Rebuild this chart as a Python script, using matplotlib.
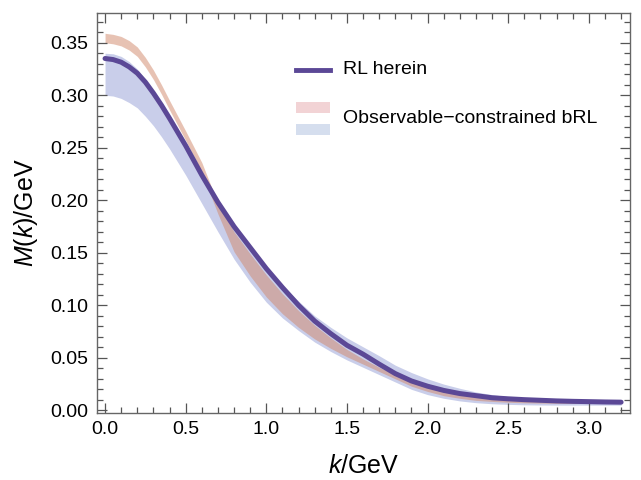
import matplotlib
matplotlib.use("Agg")
import matplotlib.pyplot as plt
from matplotlib.patches import Rectangle
from matplotlib.lines import Line2D
from matplotlib.ticker import MultipleLocator, FormatStrFormatter

plt.rcParams["font.family"] = ["Liberation Sans", "DejaVu Sans"]
plt.rcParams["mathtext.fontset"] = "custom"
plt.rcParams["mathtext.it"] = "Liberation Sans:italic"
plt.rcParams["mathtext.rm"] = "Liberation Sans"

# momentum grid (GeV), finer at low k where the curves bend
k = [0.0, 0.05, 0.1, 0.15, 0.2, 0.25, 0.3, 0.35, 0.4, 0.5, 0.6, 0.7, 0.8, 0.9, 1.0,
     1.1, 1.2, 1.3, 1.4, 1.5, 1.6, 1.7, 1.8, 1.9, 2.0,
     2.1, 2.2, 2.3, 2.4, 2.5, 2.6, 2.7, 2.8, 2.9, 3.0, 3.1, 3.2]

# RL herein mass function M(k)
rl_mass = [0.335, 0.334, 0.3315, 0.327, 0.321, 0.3125, 0.302, 0.2905, 0.278,
           0.252, 0.224, 0.198, 0.175, 0.155, 0.135,
           0.117, 0.100, 0.085, 0.073, 0.062, 0.0535, 0.044, 0.035, 0.028, 0.023,
           0.019, 0.016, 0.014, 0.012, 0.011, 0.0102, 0.0096, 0.009, 0.0086, 0.0083, 0.008, 0.0078]

# bRL band (blue)
blue_lo = [0.300, 0.2993, 0.297, 0.293, 0.288, 0.280, 0.271, 0.2605, 0.249,
           0.224, 0.197, 0.170, 0.144, 0.122, 0.103,
           0.088, 0.076, 0.065, 0.056, 0.048, 0.041, 0.034, 0.027, 0.020, 0.015,
           0.0115, 0.009, 0.0073, 0.0063, 0.0057, 0.0053, 0.0051, 0.005, 0.005, 0.005, 0.005, 0.005]
blue_hi = [0.340, 0.3395, 0.337, 0.332, 0.325, 0.315, 0.304, 0.2925, 0.280,
           0.254, 0.226, 0.200, 0.177, 0.157, 0.137,
           0.119, 0.104, 0.090, 0.079, 0.069, 0.0605, 0.052, 0.043, 0.036, 0.030,
           0.025, 0.021, 0.0175, 0.015, 0.013, 0.0118, 0.011, 0.0104, 0.0099, 0.0095, 0.0092, 0.009]

# observable-constrained band (pink)
pink_lo = [0.350, 0.349, 0.347, 0.343, 0.337, 0.327, 0.315, 0.301, 0.286,
           0.257, 0.227, 0.187, 0.151, 0.128, 0.108,
           0.092, 0.079, 0.068, 0.059, 0.051, 0.044, 0.037, 0.030, 0.023, 0.018,
           0.014, 0.0115, 0.0095, 0.0085, 0.0077, 0.0072, 0.0069, 0.0067, 0.0066, 0.0066, 0.0066, 0.0066]
pink_hi = [0.359, 0.358, 0.356, 0.352, 0.346, 0.336, 0.324, 0.310, 0.295,
           0.266, 0.236, 0.197, 0.170, 0.149, 0.129,
           0.111, 0.095, 0.081, 0.069, 0.058, 0.049, 0.041, 0.034, 0.027, 0.022,
           0.018, 0.015, 0.0128, 0.011, 0.0098, 0.009, 0.0085, 0.0081, 0.0078, 0.0076, 0.0074, 0.0072]

line_color = "#5B4896"
blue_color = "#C9CEEA"
pink_color = (209 / 255, 135 / 255, 105 / 255)

fig = plt.figure(figsize=(6.41, 4.8), dpi=100)
ax = fig.add_axes([0.1513, 0.1396, 0.8315, 0.8339])

ax.fill_between(k, blue_lo, blue_hi, color=blue_color, lw=0)
ax.fill_between(k, pink_lo, pink_hi, color=pink_color, alpha=0.5, lw=0)
ax.plot(k, rl_mass, color=line_color, lw=3.6, solid_capstyle="round",
        solid_joinstyle="round")

ax.set_xlim(-0.05, 3.255)
ax.set_ylim(-0.0025, 0.3786)
ax.xaxis.set_major_locator(MultipleLocator(0.5))
ax.xaxis.set_minor_locator(MultipleLocator(0.1))
ax.yaxis.set_major_locator(MultipleLocator(0.05))
ax.yaxis.set_minor_locator(MultipleLocator(0.01))
ax.xaxis.set_major_formatter(FormatStrFormatter("%.1f"))
ax.yaxis.set_major_formatter(FormatStrFormatter("%.2f"))
ax.tick_params(which="both", direction="in", top=True, right=True, color="#555555", width=0.9)
ax.tick_params(which="major", length=7, labelsize=14, pad=6)
ax.tick_params(which="minor", length=4)
for s in ax.spines.values():
    s.set_color("#666666")
    s.set_linewidth(1.0)

ax.set_xlabel("$k$/GeV", fontsize=18, labelpad=11)
ax.set_ylabel("$M$($k$)/GeV", fontsize=18, labelpad=8)

# legend drawn by hand, Mathematica style
ax.add_line(Line2D([0.373, 0.437], [0.857, 0.857], transform=ax.transAxes,
                   color=line_color, lw=3.5))
ax.text(0.4615, 0.857, "RL herein", transform=ax.transAxes, fontsize=14, va="center")
ax.add_patch(Rectangle((0.373, 0.749), 0.064, 0.029, transform=ax.transAxes,
                       color="#F2D3D5", lw=0))
ax.add_patch(Rectangle((0.373, 0.694), 0.064, 0.028, transform=ax.transAxes,
                       color="#D5DEEE", lw=0))
ax.text(0.4615, 0.736, "Observable\u2212constrained bRL", transform=ax.transAxes,
        fontsize=14, va="center")

plt.savefig("out.png", dpi=100)
